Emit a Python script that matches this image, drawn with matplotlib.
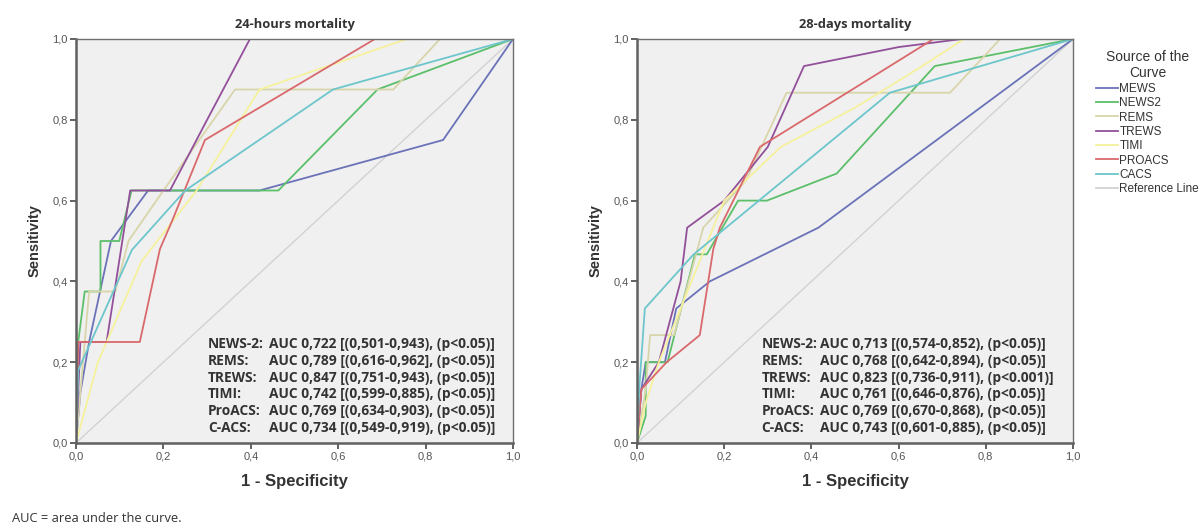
import matplotlib
matplotlib.use("Agg")
import matplotlib.pyplot as plt
from matplotlib.lines import Line2D

# ---------------- data ----------------
series_names = ["MEWS", "NEWS2", "REMS", "TREWS", "TIMI", "PROACS", "CACS"]
series_colors = ["#6a72b8", "#5cbf6a", "#d9d5aa", "#93509a", "#f6f19c", "#d9696c", "#6cc6cc"]
ref_color = "#d2d2d2"

# 24-hours mortality (1 - specificity, sensitivity)
h24_MEWS_x = [0, 0.01, 0.03, 0.08, 0.165, 0.42, 0.84, 1]
h24_MEWS_y = [0, 0.125, 0.25, 0.5, 0.625, 0.625, 0.75, 1]
h24_NEWS2_x = [0, 0.005, 0.02, 0.056, 0.056, 0.099, 0.127, 0.463, 0.69, 1]
h24_NEWS2_y = [0, 0.25, 0.375, 0.375, 0.5, 0.5, 0.625, 0.625, 0.875, 1]
h24_REMS_x = [0, 0.02, 0.03, 0.09, 0.12, 0.2, 0.364, 0.726, 0.833, 1]
h24_REMS_y = [0, 0.25, 0.375, 0.375, 0.5, 0.625, 0.875, 0.875, 1, 1]
h24_TREWS_x = [0, 0.01, 0.07, 0.124, 0.215, 0.3, 0.398, 1]
h24_TREWS_y = [0, 0.25, 0.25, 0.625, 0.625, 0.8, 1, 1]
h24_TIMI_x = [0, 0.05, 0.15, 0.276, 0.42, 0.757, 1]
h24_TIMI_y = [0, 0.2, 0.45, 0.625, 0.875, 1, 1]
h24_PROACS_x = [0, 0.005, 0.146, 0.192, 0.22, 0.295, 0.684, 1]
h24_PROACS_y = [0, 0.25, 0.25, 0.48, 0.55, 0.75, 1, 1]
h24_CACS_x = [0, 0.005, 0.128, 0.25, 0.588, 1]
h24_CACS_y = [0, 0.18, 0.478, 0.625, 0.875, 1]

# 28-days mortality
d28_MEWS_x = [0, 0.01, 0.02, 0.064, 0.09, 0.167, 0.416, 1]
d28_MEWS_y = [0, 0.133, 0.2, 0.2, 0.333, 0.4, 0.533, 1]
d28_NEWS2_x = [0, 0.02, 0.02, 0.07, 0.133, 0.16, 0.232, 0.298, 0.458, 0.683, 1]
d28_NEWS2_y = [0, 0.067, 0.2, 0.2, 0.467, 0.467, 0.6, 0.6, 0.667, 0.933, 1]
d28_REMS_x = [0, 0.02, 0.03, 0.085, 0.152, 0.25, 0.343, 0.718, 0.833, 1]
d28_REMS_y = [0, 0.133, 0.267, 0.267, 0.533, 0.65, 0.867, 0.867, 1, 1]
d28_TREWS_x = [0, 0.01, 0.05, 0.1, 0.115, 0.2, 0.3, 0.383, 0.6, 0.745, 1]
d28_TREWS_y = [0, 0.133, 0.2, 0.4, 0.533, 0.6, 0.733, 0.933, 0.98, 1, 1]
d28_TIMI_x = [0, 0.02, 0.05, 0.1, 0.15, 0.2, 0.33, 0.5, 0.65, 0.75, 1]
d28_TIMI_y = [0, 0.1, 0.2, 0.333, 0.467, 0.6, 0.733, 0.83, 0.93, 1, 1]
d28_PROACS_x = [0, 0.01, 0.068, 0.144, 0.175, 0.19, 0.282, 0.68, 1]
d28_PROACS_y = [0, 0.133, 0.2, 0.267, 0.48, 0.533, 0.733, 1, 1]
d28_CACS_x = [0, 0.005, 0.018, 0.13, 0.58, 1]
d28_CACS_y = [0, 0.133, 0.333, 0.467, 0.867, 1]

ticks = [0, 0.2, 0.4, 0.6, 0.8, 1.0]
tick_labels = ["0,0", "0,2", "0,4", "0,6", "0,8", "1,0"]

h24_labels = ["NEWS-2:", "REMS:", "TREWS:", "TIMI:", "ProACS:", "C-ACS:"]
h24_auc = ["AUC 0,722 [(0,501-0,943), (p<0.05)]",
           "AUC 0,789 [(0,616-0,962], (p<0.05)]",
           "AUC 0,847 [(0,751-0,943), (p<0.05)]",
           "AUC 0,742 [(0,599-0,885), (p<0.05)]",
           "AUC 0,769 [(0,634-0,903), (p<0.05)]",
           "AUC 0,734 [(0,549-0,919), (p<0.05)]"]
d28_labels = ["NEWS-2:", "REMS:", "TREWS:", "TIMI:", "ProACS:", "C-ACS:"]
d28_auc = ["AUC 0,713 [(0,574-0,852), (p<0.05)]",
           "AUC 0,768 [(0,642-0,894), (p<0.05)]",
           "AUC 0,823 [(0,736-0,911), (p<0.001)]",
           "AUC 0,761 [(0,646-0,876), (p<0.05)]",
           "AUC 0,769 [(0,670-0,868), (p<0.05)]",
           "AUC 0,743 [(0,601-0,885), (p<0.05)]"]

panels = [
    ("24-hours mortality",
     [(h24_MEWS_x, h24_MEWS_y), (h24_NEWS2_x, h24_NEWS2_y), (h24_REMS_x, h24_REMS_y),
      (h24_TREWS_x, h24_TREWS_y), (h24_TIMI_x, h24_TIMI_y), (h24_PROACS_x, h24_PROACS_y),
      (h24_CACS_x, h24_CACS_y)],
     h24_labels, h24_auc, 0.302, 0.442),
    ("28-days mortality",
     [(d28_MEWS_x, d28_MEWS_y), (d28_NEWS2_x, d28_NEWS2_y), (d28_REMS_x, d28_REMS_y),
      (d28_TREWS_x, d28_TREWS_y), (d28_TIMI_x, d28_TIMI_y), (d28_PROACS_x, d28_PROACS_y),
      (d28_CACS_x, d28_CACS_y)],
     d28_labels, d28_auc, 0.286, 0.42),
]

# ---------------- figure ----------------
fig = plt.figure(figsize=(12.04, 5.30), dpi=100)
fig.patch.set_facecolor("white")

axes_rects = [[76 / 1204, 1 - 443 / 530, 437 / 1204, 404 / 530],
              [637 / 1204, 1 - 443 / 530, 436 / 1204, 404 / 530]]

txt_font = "Open Sans"
for rect, (title, curves, labs, aucs, xl, xa) in zip(axes_rects, panels):
    ax = fig.add_axes(rect)
    ax.set_facecolor("#f0f0f0")
    ax.plot([0, 1], [0, 1], color=ref_color, lw=1.0, zorder=1)
    for (xs, ys), c in zip(curves, series_colors):
        ax.plot(xs, ys, color=c, lw=1.3, zorder=2)
    ax.set_xlim(0, 1)
    ax.set_ylim(0, 1)
    ax.set_xticks(ticks)
    ax.set_yticks(ticks)
    ax.set_xticklabels(tick_labels, family="Liberation Sans", fontsize=8, color="#555555")
    ax.set_yticklabels(tick_labels, family="Liberation Sans", fontsize=8, color="#555555")
    ax.tick_params(direction="out", length=4, width=1.3, color="#555555", pad=2)
    for s in ["left", "bottom"]:
        ax.spines[s].set_linewidth(1.8)
        ax.spines[s].set_color("#606060")
    for s in ["top", "right"]:
        ax.spines[s].set_linewidth(1.0)
        ax.spines[s].set_color("#707070")
    ax.set_title(title, family=txt_font, fontweight="bold", fontsize=9.3, color="#333333", pad=8)
    ax.set_xlabel("1 - Specificity", family="Liberation Sans", fontweight="bold", fontsize=12,
                  color="#333333", labelpad=9)
    ax.set_ylabel("Sensitivity", family="Liberation Sans", fontweight="bold", fontsize=10.5,
                  color="#333333", labelpad=8)
    y0 = 0.245
    dy = 0.0415
    for i, (l, a) in enumerate(zip(labs, aucs)):
        ax.text(xl, y0 - i * dy, l, transform=ax.transAxes, family=txt_font, fontweight="bold",
                fontsize=9.9, color="#333333", va="center", ha="left", zorder=5)
        ax.text(xa, y0 - i * dy, a, transform=ax.transAxes, family=txt_font, fontweight="bold",
                fontsize=9.9, color="#333333", va="center", ha="left", zorder=5)

# legend
handles = [Line2D([0], [0], color=c, lw=1.3) for c in series_colors]
handles.append(Line2D([0], [0], color=ref_color, lw=1.3))
leg = fig.legend(handles, series_names + ["Reference Line"],
                 title="Source of the\nCurve", loc="upper left",
                 bbox_to_anchor=(1088 / 1204, 1 - 42 / 530),
                 frameon=False, handlelength=1.8, handletextpad=0.15,
                 labelspacing=0.2, borderpad=0.2,
                 prop={"family": "Liberation Sans", "size": 8.5})
leg.get_title().set_fontfamily("Liberation Sans")
leg.get_title().set_fontsize(10)
leg.get_title().set_multialignment("center")
leg.get_title().set_color("#333333")
for t in leg.get_texts():
    t.set_color("#333333")

fig.text(12 / 1204, 1 - 519 / 530, "AUC = area under the curve.", family=txt_font,
         fontsize=9.3, color="#333333", va="center", ha="left")

fig.savefig("out.png", dpi=100, facecolor="white")
